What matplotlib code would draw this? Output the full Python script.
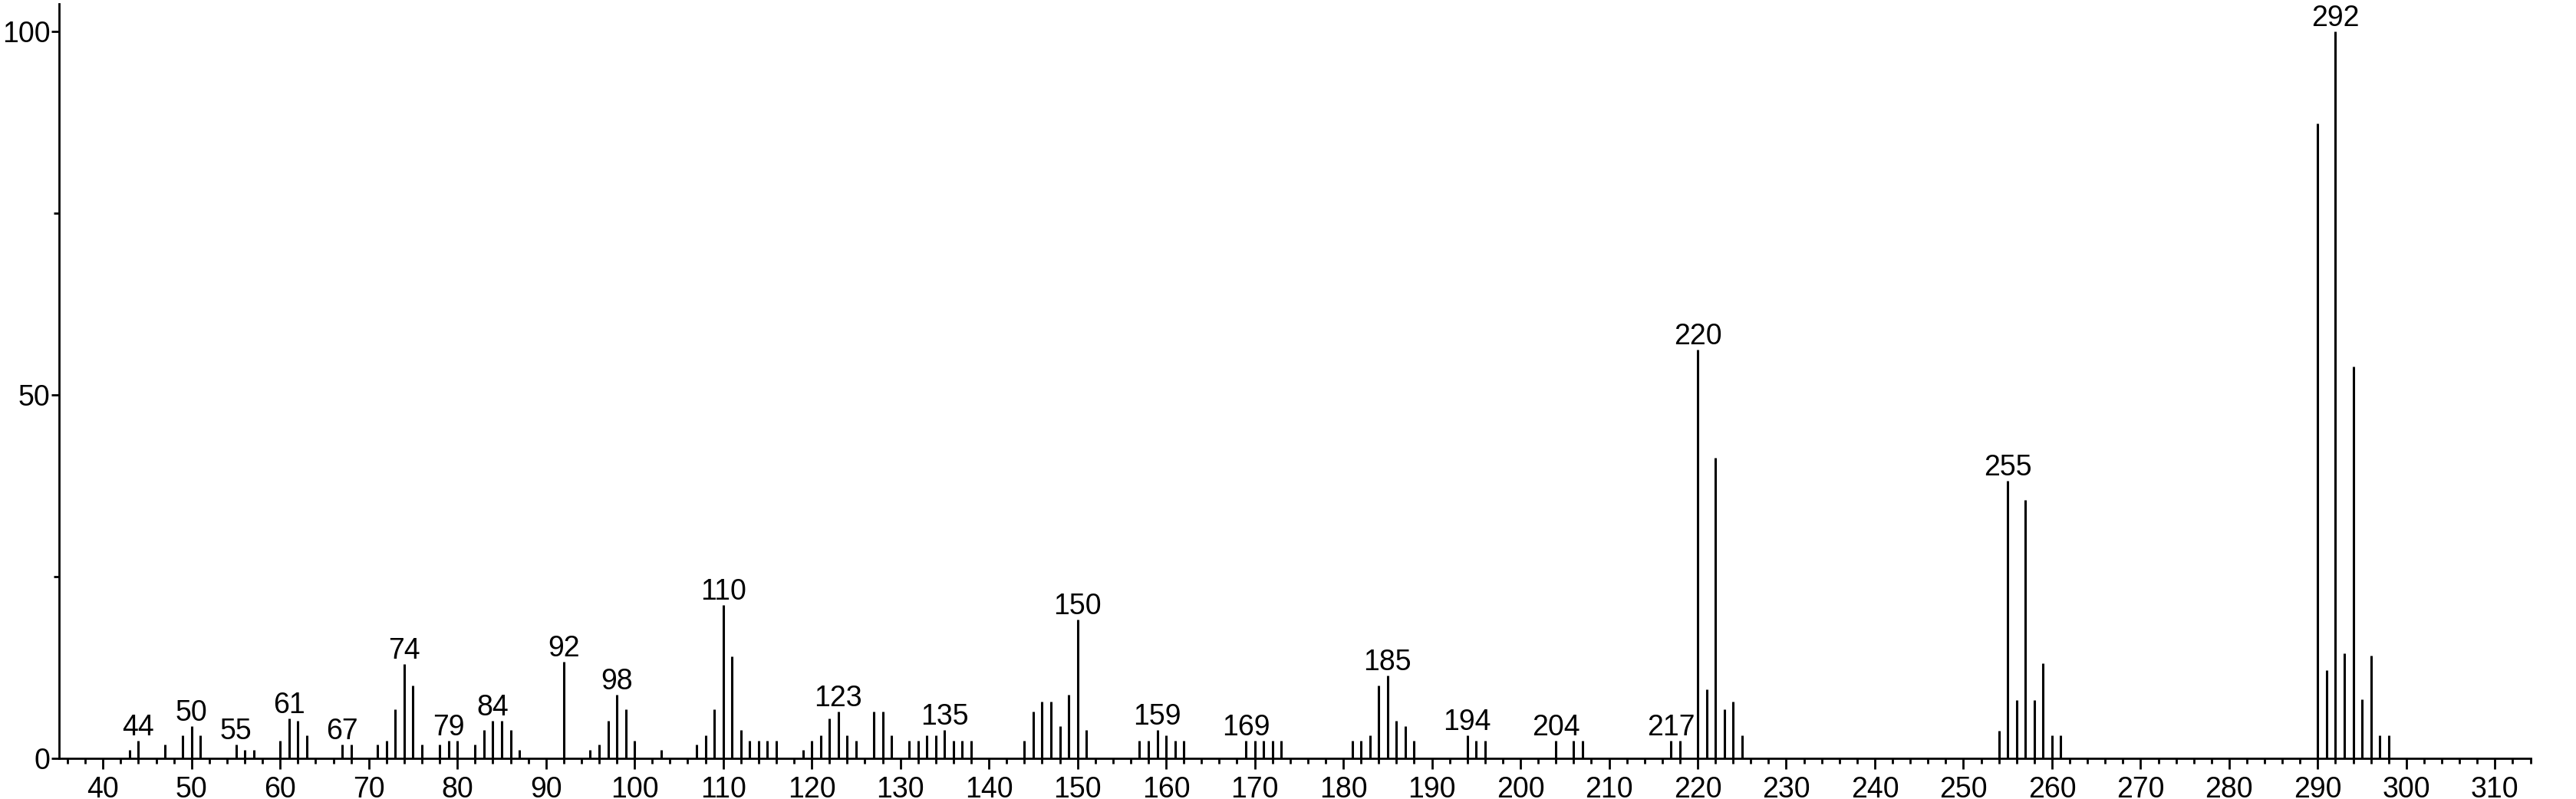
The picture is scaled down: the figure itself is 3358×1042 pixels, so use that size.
import matplotlib
matplotlib.use("Agg")
import matplotlib.pyplot as plt
from matplotlib.ticker import MultipleLocator

# mass spectrum peaks (m/z, relative intensity)
mz = [43, 44, 47, 49, 50, 51, 55, 56, 57, 60, 61, 62, 63, 67, 68,
      71, 72, 73, 74, 75, 76, 78, 79, 80, 82, 83, 84, 85, 86, 87,
      92, 95, 96, 97, 98, 99, 100, 103, 107, 108, 109, 110, 111, 112,
      113, 114, 115, 116, 119, 120, 121, 122, 123, 124, 125, 127, 128,
      129, 131, 132, 133, 134, 135, 136, 137, 138, 144, 145, 146, 147,
      148, 149, 150, 151, 157, 158, 159, 160, 161, 162, 169, 170, 171,
      172, 173, 181, 182, 183, 184, 185, 186, 187, 188, 194, 195, 196,
      204, 206, 207, 217, 218, 220, 221, 222, 223, 224, 225,
      254, 255, 256, 257, 258, 259, 260, 261,
      290, 291, 292, 293, 294, 295, 296, 297, 298]
intensity = [1.2, 2.5, 1.9, 3.2, 4.5, 3.2, 1.9, 1.2, 1.2, 2.5, 5.5, 5.2, 3.2, 1.9, 1.9,
             1.9, 2.5, 6.8, 13.0, 10.1, 1.9, 1.9, 2.5, 2.5, 1.9, 3.9, 5.2, 5.2, 3.9, 1.2,
             13.3, 1.2, 1.9, 5.2, 8.8, 6.8, 2.5, 1.2, 1.9, 3.2, 6.8, 21.1, 14.1, 3.9,
             2.5, 2.5, 2.5, 2.5, 1.2, 2.5, 3.2, 5.5, 6.5, 3.2, 2.5, 6.5, 6.5,
             3.2, 2.5, 2.5, 3.2, 3.2, 3.9, 2.5, 2.5, 2.5, 2.5, 6.5, 7.8, 7.8,
             4.5, 8.8, 19.1, 3.9, 2.5, 2.5, 3.9, 3.2, 2.5, 2.5, 2.5, 2.5, 2.5,
             2.5, 2.5, 2.5, 2.5, 3.2, 10.1, 11.4, 5.2, 4.5, 2.5, 3.2, 2.5, 2.5,
             2.5, 2.5, 2.5, 2.5, 2.5, 56.2, 9.5, 41.4, 6.8, 7.8, 3.2,
             3.8, 38.2, 8.1, 35.6, 8.1, 13.1, 3.2, 3.2,
             87.4, 12.2, 100.0, 14.5, 53.9, 8.2, 14.2, 3.2, 3.2]

labelled = [44, 50, 55, 61, 67, 74, 79, 84, 92, 98, 110, 123, 135, 150,
            159, 169, 185, 194, 204, 217, 220, 255, 292]

plt.rcParams['font.family'] = ['Liberation Sans', 'DejaVu Sans']

fig = plt.figure(figsize=(33.58, 10.42), dpi=100)
ax = fig.add_axes([0.0228, 0.0505, 0.9595, 0.9447])

ax.vlines(mz, 0, intensity, color='black', linewidth=2.2)

peak = dict(zip(mz, intensity))
for m in labelled:
    ax.annotate(str(m), (m, peak[m]), xytext=(0, 5), textcoords='offset points',
                ha='center', va='baseline', fontsize=27, clip_on=False)

ax.set_xlim(35, 314)
ax.set_ylim(0, 103.8)

ax.xaxis.set_major_locator(MultipleLocator(10))
ax.xaxis.set_minor_locator(MultipleLocator(2))
ax.yaxis.set_major_locator(MultipleLocator(50))
ax.yaxis.set_minor_locator(MultipleLocator(25))

ax.tick_params(axis='both', which='major', direction='out', length=10, width=2,
               labelsize=27)
ax.tick_params(axis='x', which='major', pad=6)
ax.tick_params(axis='y', which='major', length=7, pad=1)
ax.tick_params(axis='both', which='minor', direction='out', length=5, width=2)

for s in ['top', 'right']:
    ax.spines[s].set_visible(False)
for s in ['left', 'bottom']:
    ax.spines[s].set_linewidth(2)

fig.savefig("out.png", dpi=100)
